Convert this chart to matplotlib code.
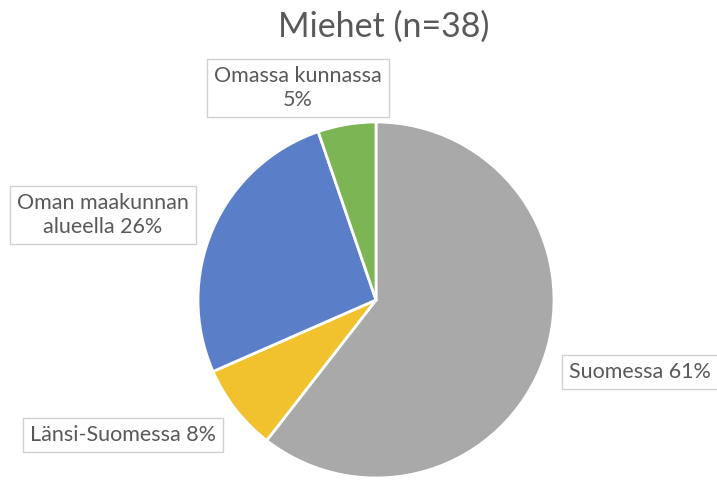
import matplotlib
matplotlib.use("Agg")
import matplotlib.pyplot as plt

title = "Miehet (n=38)"
categories = ["Suomessa", "Länsi-Suomessa", "Oman maakunnan alueella", "Omassa kunnassa"]
counts = [23, 3, 10, 2]
colors = ["#A9A9A9", "#F2C12E", "#5A7FC8", "#7CB553"]

W, H = 717, 484
fig = plt.figure(figsize=(W / 100, H / 100), dpi=100)
fig.patch.set_facecolor("white")

cx, cy, r = 376, 300, 178
ax = fig.add_axes([(cx - r) / W, 1 - (cy + r) / H, 2 * r / W, 2 * r / H])
ax.pie(counts, colors=colors, startangle=90, counterclock=False,
       radius=1.0, wedgeprops=dict(edgecolor="white", linewidth=2))
ax.set_xlim(-1, 1)
ax.set_ylim(-1, 1)
ax.set_aspect("equal")
ax.axis("off")

font = "Lato"
fig.text(384 / W, 1 - 27 / H, title, ha="center", va="center",
         fontsize=24.5, color="#595959", family=font)

total = sum(counts)
pcts = [round(c / total * 100) for c in counts]
label_texts = [
    f"{categories[0]} {pcts[0]}%",
    f"{categories[1]} {pcts[1]}%",
    f"Oman maakunnan\nalueella {pcts[2]}%",
    f"Omassa kunnassa\n{pcts[3]}%",
]
label_pos = [(640, 372), (123, 435), (103, 215), (298, 88)]
box = dict(boxstyle="square,pad=0.32", facecolor="white", edgecolor="#D0D0D0", linewidth=1)
for txt, (x, y) in zip(label_texts, label_pos):
    fig.text(x / W, 1 - y / H, txt, ha="center", va="center", fontsize=15.5,
             color="#595959", family=font, bbox=box, linespacing=1.3)

fig.savefig("out.png", dpi=100, facecolor="white")
